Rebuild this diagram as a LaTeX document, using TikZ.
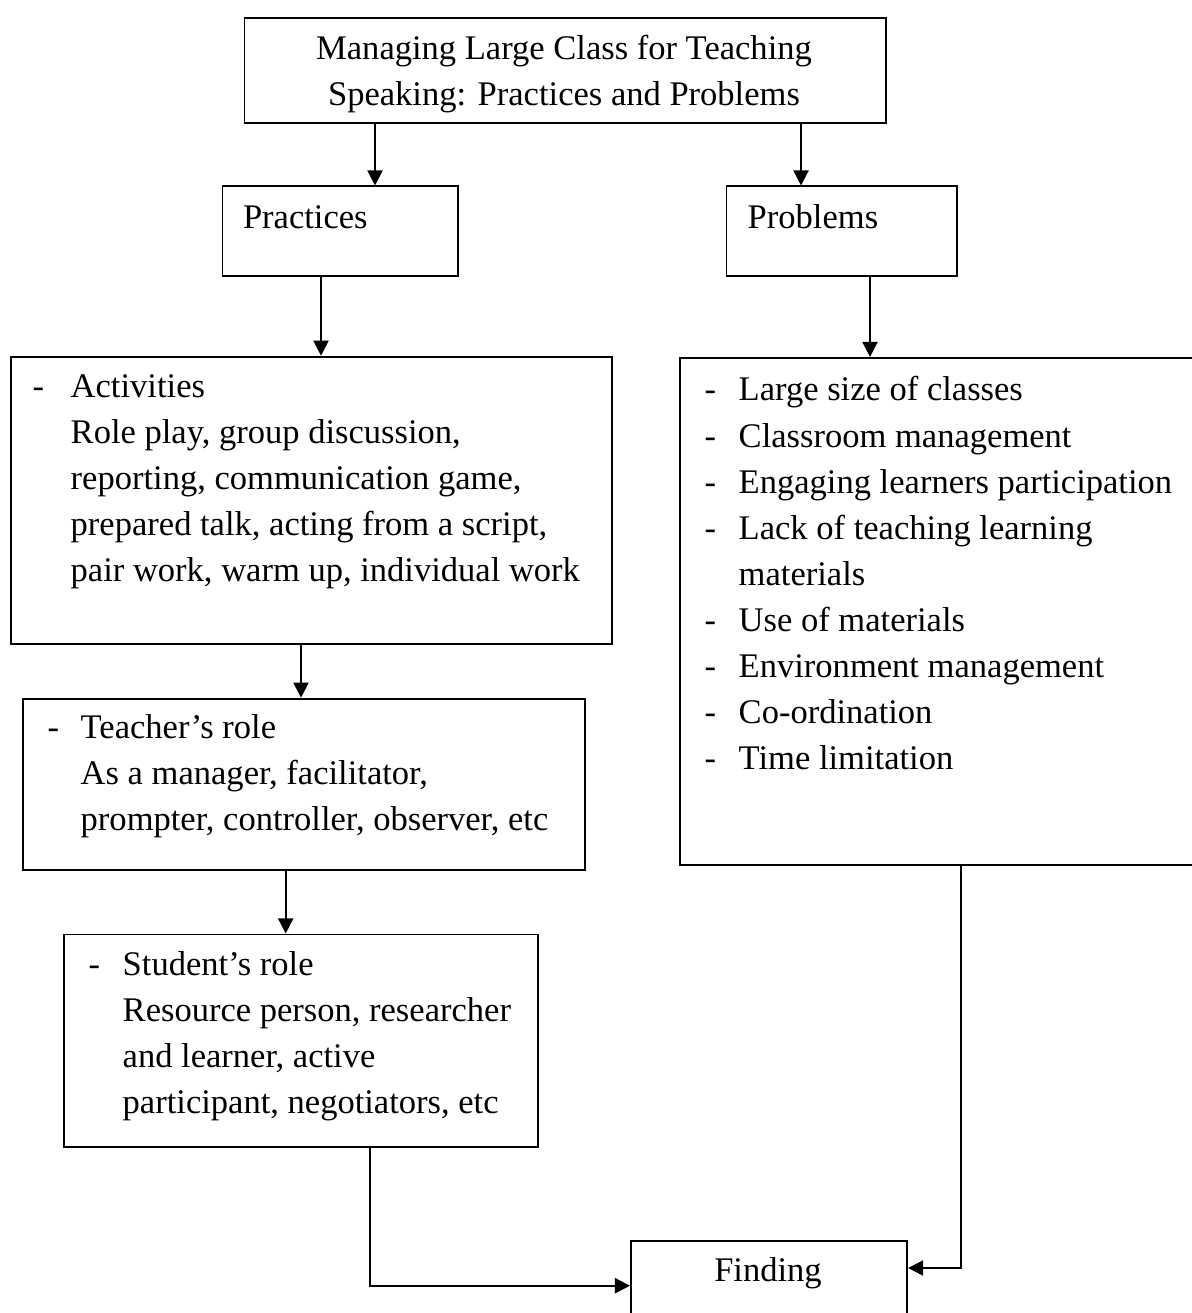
\documentclass[tikz,border=0pt]{standalone}
\usepackage{fontspec}
\setmainfont{Liberation Serif}
\usetikzlibrary{arrows.meta}
\newcommand{\boxfont}{\fontsize{9.82pt}{13.1pt}\selectfont}
\tikzset{
  boxframe/.style={rectangle, draw=black, line width=0.55pt,
                   inner sep=0pt, anchor=north west},
  boxtext/.style={inner sep=0pt, font=\boxfont},
  arrow/.style={-{Triangle[length=4.3pt, width=4.3pt]},
                line width=0.55pt, color=black}
}

\begin{document}
\begin{tikzpicture}[x=0.01cm, y=-0.01cm]
  \useasboundingbox (0,0) rectangle (1192,1313);

  % Boxes
  \node[boxframe, minimum width=6.415cm, minimum height=1.053cm] (top)   at (243.5,16.7) {};
  \node[boxframe, minimum width=2.35cm,  minimum height=0.895cm] (prac)  at (221.5,185.5) {};
  \node[boxframe, minimum width=2.30cm,  minimum height=0.895cm] (prob)  at (725.5,185.5) {};
  \node[boxframe, minimum width=6.01cm,  minimum height=2.873cm] (act)   at (10,355.7) {};
  \node[boxframe, minimum width=5.31cm,  minimum height=5.065cm] (plist) at (679,357) {};
  \node[boxframe, minimum width=5.623cm, minimum height=1.713cm] (teach) at (21.7,697.7) {};
  \node[boxframe, minimum width=4.733cm, minimum height=2.125cm] (stud)  at (63.2,933.5) {};
  \node[boxframe, minimum width=2.76cm,  minimum height=1.0cm]   (find)  at (630,1240) {};

  % Texts
  \node[boxtext, anchor=base] (topT) at (564,59.5)
      {\begin{tabular}[t]{@{}c@{}}Managing Large Class for Teaching\\
       Speaking: Practices and Problems\end{tabular}};
  \node[boxtext, anchor=base west] (pracT) at (242.3,229) {Practices};
  \node[boxtext, anchor=base west] (probT) at (747,229) {Problems};
  \node[boxtext, anchor=base west] (actT) at (32,397.7)
      {\begin{tabular}[t]{@{}p{0.38cm}@{}l@{}}
       - & Activities\\
         & Role play, group discussion,\\
         & reporting, communication game,\\
         & prepared talk, acting from a script,\\
         & pair work, warm up, individual work
       \end{tabular}};
  \node[boxtext, anchor=base west] (plistT) at (704,401)
      {\begin{tabular}[t]{@{}p{0.34cm}@{}l@{}}
       - & Large size of classes\\
       - & Classroom management\\
       - & Engaging learners participation\\
       - & Lack of teaching learning\\
         & materials\\
       - & Use of materials\\
       - & Environment management\\
       - & Co-ordination\\
       - & Time limitation
       \end{tabular}};
  \node[boxtext, anchor=base west] (teachT) at (47,738)
      {\begin{tabular}[t]{@{}p{0.33cm}@{}l@{}}
       - & Teacher’s role\\
         & As a manager, facilitator,\\
         & prompter, controller, observer, etc
       \end{tabular}};
  \node[boxtext, anchor=base west] (studT) at (88,975)
      {\begin{tabular}[t]{@{}p{0.34cm}@{}l@{}}
       - & Student’s role\\
         & Resource person, researcher\\
         & and learner, active\\
         & participant, negotiators, etc
       \end{tabular}};
  \node[boxtext, anchor=base] (findT) at (768,1281.7) {Finding};

  % Connectors
  \coordinate (a1) at (375,0);
  \coordinate (a2) at (801,0);
  \coordinate (a3) at (321,0);
  \coordinate (a4) at (870,0);
  \coordinate (a5) at (301,0);
  \coordinate (a6) at (285.7,0);
  \coordinate (s1) at (370,1285.7);
  \coordinate (p1) at (961,1268);
  \draw[arrow] (top.south -| a1) -- (prac.north -| a1);
  \draw[arrow] (top.south -| a2) -- (prob.north -| a2);
  \draw[arrow] (prac.south -| a3) -- (act.north -| a3);
  \draw[arrow] (prob.south -| a4) -- (plist.north -| a4);
  \draw[arrow] (act.south -| a5) -- (teach.north -| a5);
  \draw[arrow] (teach.south -| a6) -- (stud.north -| a6);
  \draw[arrow] (stud.south -| s1) |- (find.west |- s1);
  \draw[arrow] (plist.south -| p1) |- (find.east |- p1);
\end{tikzpicture}
\end{document}
